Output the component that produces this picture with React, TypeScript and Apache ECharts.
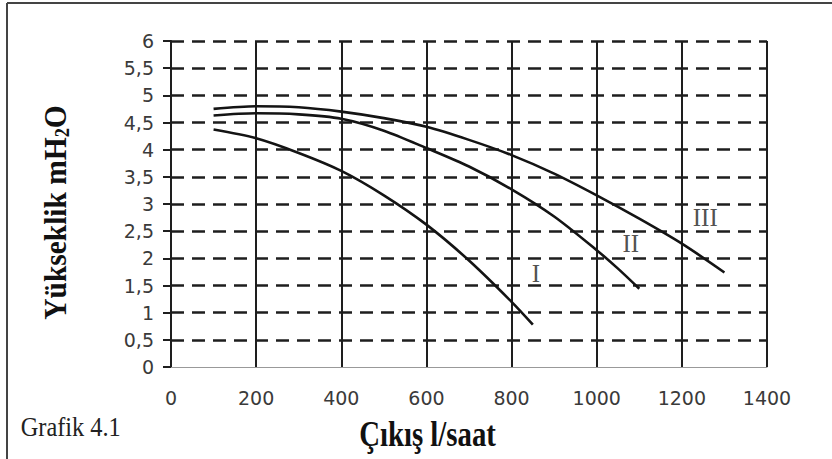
import React, { useEffect, useRef } from "react";
import * as echarts from "echarts";

// Pump curves: flow (l/saat) vs head (mH2O)
const flowI = [100, 200, 300, 400, 500, 600, 700, 800, 850];
const headI = [4.37, 4.21, 3.94, 3.61, 3.16, 2.62, 1.96, 1.2, 0.78];

const flowII = [100, 200, 300, 400, 500, 600, 700, 800, 900, 1000, 1050, 1100];
const headII = [4.63, 4.67, 4.65, 4.57, 4.35, 4.03, 3.69, 3.27, 2.77, 2.15, 1.81, 1.44];

const flowIII = [100, 200, 300, 400, 500, 600, 700, 800, 900, 1000, 1100, 1200, 1300];
const headIII = [4.75, 4.8, 4.78, 4.7, 4.58, 4.42, 4.18, 3.9, 3.56, 3.16, 2.73, 2.27, 1.74];

const curveNames = ["I", "II", "III"];
const labelFlow = [857, 1080, 1255];
const labelHead = [1.72, 2.27, 2.76];

const xTitle = "Çıkış l/saat";
const yTitleMain = "Yükseklik mH";
const yTitleSub = "2";
const yTitleEnd = "O";
const caption = "Grafik 4.1";

const pairs = (xs: number[], ys: number[]) => xs.map((x, i) => [x, ys[i]]);

export default function App() {
  const ref = useRef<HTMLDivElement>(null);

  useEffect(() => {
    if (!ref.current) return;
    const chart = echarts.init(ref.current, undefined, { renderer: "svg" });

    const curveStyle = { color: "#141414", width: 2.6 };
    const curves = [
      pairs(flowI, headI),
      pairs(flowII, headII),
      pairs(flowIII, headIII),
    ];

    chart.setOption({
      animation: false,
      backgroundColor: "#ffffff",
      grid: { left: 171, right: 65, top: 41, bottom: 92, containLabel: false },
      xAxis: {
        type: "value",
        min: 0,
        max: 1400,
        interval: 200,
        axisLine: { show: true, lineStyle: { color: "#999", width: 1 } },
        axisTick: { show: false },
        axisLabel: {
          margin: 21,
          fontFamily: "DejaVu Sans",
          fontSize: 19,
          color: "#3a3a3a",
          formatter: (v: number) => String(v),
        },
        splitLine: { show: true, lineStyle: { color: "#1e1e1e", width: 2 } },
      },
      yAxis: {
        type: "value",
        min: 0,
        max: 6,
        interval: 0.5,
        axisLine: { show: true, lineStyle: { color: "#1e1e1e", width: 2 } },
        axisTick: { show: true, inside: false, length: 8, lineStyle: { color: "#1e1e1e", width: 2 } },
        axisLabel: {
          margin: 17,
          fontFamily: "DejaVu Sans",
          fontSize: 19,
          color: "#3a3a3a",
          formatter: (v: number) => String(v).replace(".", ","),
        },
        splitLine: {
          show: true,
          showMinLine: false,
          lineStyle: { color: "#1e1e1e", width: 2.5, type: [13, 8] },
        },
      },
      series: [
        ...curves.map((data, i) => ({
          name: curveNames[i],
          type: "line",
          data,
          smooth: 0.3,
          showSymbol: false,
          symbol: "none",
          lineStyle: curveStyle,
          z: 3,
        })),
        {
          name: "labels",
          type: "scatter",
          symbolSize: 1,
          itemStyle: { color: "rgba(0,0,0,0)" },
          data: curveNames.map((n, i) => ({ name: n, value: [labelFlow[i], labelHead[i]] })),
          label: {
            show: true,
            position: "inside",
            formatter: (p: any) => p.name,
            fontFamily: "Liberation Serif",
            fontSize: 25,
            color: "#222",
            textBorderWidth: 0,
          },
          z: 4,
        },
      ],
      graphic: [
        {
          type: "line",
          shape: { x1: 7, y1: 3, x2: 832, y2: 3 },
          style: { stroke: "#444", lineWidth: 2 },
        },
        {
          type: "line",
          shape: { x1: 7, y1: 3, x2: 7, y2: 459 },
          style: { stroke: "#444", lineWidth: 2 },
        },
        {
          type: "text",
          x: 427.5,
          y: 433.5,
          scaleX: 0.8,
          style: {
            text: xTitle,
            fontFamily: "Liberation Serif",
            fontWeight: "bold",
            fontSize: 36,
            fill: "#111",
            align: "center",
            verticalAlign: "middle",
          },
        },
        {
          type: "text",
          x: 56,
          y: 212.5,
          rotation: Math.PI / 2,
          scaleX: 0.92,
          style: {
            text: yTitleMain + "{sub|" + yTitleSub + "}" + yTitleEnd,
            fontFamily: "Liberation Serif",
            fontWeight: "bold",
            fontSize: 32,
            lineHeight: 32,
            fill: "#111",
            align: "center",
            verticalAlign: "middle",
            rich: {
              sub: {
                fontFamily: "Liberation Serif",
                fontWeight: "bold",
                fontSize: 20,
                lineHeight: 20,
                verticalAlign: "bottom",
                padding: [6, 0, 0, 0],
                fill: "#111",
              },
            },
          },
        },
        {
          type: "text",
          x: 20.7,
          y: 427.2,
          scaleX: 0.87,
          style: {
            text: caption,
            fontFamily: "Liberation Serif",
            fontSize: 28,
            fill: "#222",
            align: "left",
            verticalAlign: "middle",
          },
        },
      ],
    });

    return () => chart.dispose();
  }, []);

  return (
    <div
      ref={ref}
      style={{ position: "fixed", left: 0, top: 0, width: 832, height: 459 }}
    />
  );
}
